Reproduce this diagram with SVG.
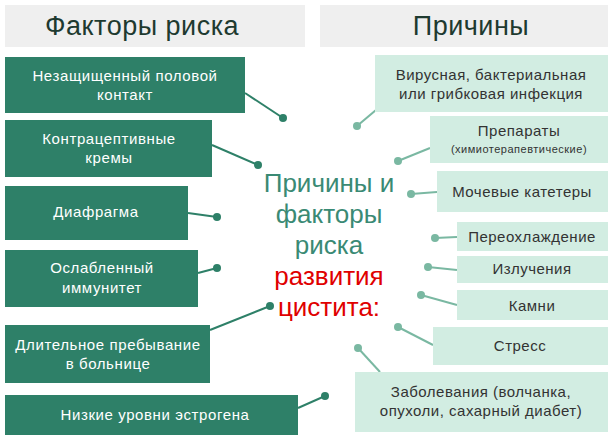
<svg xmlns="http://www.w3.org/2000/svg" width="614" height="442" viewBox="0 0 614 442">
<style>
text{font-family:"Liberation Sans",Arial,sans-serif;text-anchor:middle}
.d{fill:#2e8068}.dt{fill:#fff;font-size:15px;letter-spacing:0.6px}
.l{fill:#d2ede2}.lt{fill:#333;font-size:15px;letter-spacing:0.5px}
.h{fill:#efefef}.ht{fill:#1e3a30;font-size:27px;letter-spacing:0.5px}
.cl{stroke:#2e8068;stroke-width:2}.cr{stroke:#7ab8a2;stroke-width:2}
.c{fill:#3a8a74;font-size:26px}
</style>
<rect width="614" height="442" fill="#fff"/>
<g id="hdr-left"><rect class="h" x="5" y="5" width="300" height="42"/><text class="ht" x="142" y="35">Факторы риска</text></g>
<g id="hdr-right"><rect class="h" x="320" y="5" width="288" height="42"/><text class="ht" x="471" y="35">Причины</text></g>
<g id="connectors">
<line class="cl" x1="245" y1="93" x2="283" y2="118"/><circle cx="283" cy="118" r="4" fill="#2e8068"/>
<line class="cl" x1="212" y1="145" x2="258" y2="165"/><circle cx="258" cy="165" r="4" fill="#2e8068"/>
<line class="cl" x1="188" y1="213" x2="217" y2="217"/><circle cx="217" cy="217" r="4" fill="#2e8068"/>
<line class="cl" x1="198" y1="273" x2="217" y2="268"/><circle cx="217" cy="268" r="4" fill="#2e8068"/>
<line class="cl" x1="210" y1="330" x2="270" y2="306"/><circle cx="270" cy="306" r="4" fill="#2e8068"/>
<line class="cl" x1="298" y1="408" x2="325" y2="396"/><circle cx="325" cy="396" r="4" fill="#2e8068"/>
<line class="cr" x1="376" y1="110" x2="357" y2="126"/><circle cx="357" cy="126" r="4" fill="#7ab8a2"/>
<line class="cr" x1="430" y1="148" x2="398" y2="161"/><circle cx="398" cy="161" r="4" fill="#7ab8a2"/>
<line class="cr" x1="437" y1="192" x2="411" y2="194"/><circle cx="411" cy="194" r="4" fill="#7ab8a2"/>
<line class="cr" x1="457" y1="237" x2="435" y2="238"/><circle cx="435" cy="238" r="4" fill="#7ab8a2"/>
<line class="cr" x1="457" y1="270" x2="428" y2="267"/><circle cx="428" cy="267" r="4" fill="#7ab8a2"/>
<line class="cr" x1="457" y1="305" x2="421" y2="295"/><circle cx="421" cy="295" r="4" fill="#7ab8a2"/>
<line class="cr" x1="433" y1="345" x2="398" y2="327"/><circle cx="398" cy="327" r="4" fill="#7ab8a2"/>
<line class="cr" x1="380" y1="372" x2="358" y2="348"/><circle cx="358" cy="348" r="4" fill="#7ab8a2"/>
</g>
<g id="l1"><rect class="d" x="5" y="57" width="240" height="56"/><text class="dt" x="125" y="81">Незащищенный половой</text><text class="dt" x="125" y="100">контакт</text></g>
<g id="l2"><rect class="d" x="5" y="120" width="207" height="57"/><text class="dt" x="109" y="144">Контрацептивные</text><text class="dt" x="109" y="163">кремы</text></g>
<g id="l3"><rect class="d" x="5" y="186" width="183" height="54"/><text class="dt" x="96" y="217">Диафрагма</text></g>
<g id="l4"><rect class="d" x="5" y="250" width="193" height="57"/><text class="dt" x="102" y="273">Ослабленный</text><text class="dt" x="102" y="293">иммунитет</text></g>
<g id="l5"><rect class="d" x="5" y="325" width="205" height="58"/><text class="dt" x="108" y="350">Длительное пребывание</text><text class="dt" x="108" y="369">в больнице</text></g>
<g id="l6"><rect class="d" x="5" y="395" width="293" height="40"/><text class="dt" x="155" y="420">Низкие уровни эстрогена</text></g>
<g id="center">
<text class="c" x="329" y="192">Причины и</text><text class="c" x="329" y="223">факторы</text><text class="c" x="329" y="254">риска</text>
<text class="c" x="329" y="285" style="fill:#e00000">развития</text><text class="c" x="329" y="316" style="fill:#e00000">цистита:</text>
</g>
<g id="r1"><rect class="l" x="375" y="55" width="233" height="57"/><text class="lt" x="491" y="80">Вирусная, бактериальная</text><text class="lt" x="491" y="99">или грибковая инфекция</text></g>
<g id="r2"><rect class="l" x="430" y="116" width="178" height="47"/><text class="lt" x="519" y="136">Препараты</text><text class="lt" x="519" y="153" style="font-size:11px">(химиотерапевтические)</text></g>
<g id="r3"><rect class="l" x="437" y="171" width="171" height="41"/><text class="lt" x="522" y="197">Мочевые катетеры</text></g>
<g id="r4"><rect class="l" x="457" y="222" width="151" height="29"/><text class="lt" x="532" y="242">Переохлаждение</text></g>
<g id="r5"><rect class="l" x="457" y="256" width="151" height="27"/><text class="lt" x="532" y="274">Излучения</text></g>
<g id="r6"><rect class="l" x="457" y="290" width="151" height="30"/><text class="lt" x="532" y="311">Камни</text></g>
<g id="r7"><rect class="l" x="433" y="327" width="175" height="38"/><text class="lt" x="520" y="351">Стресс</text></g>
<g id="r8"><rect class="l" x="355" y="372" width="253" height="60"/><text class="lt" x="481" y="397">Заболевания (волчанка,</text><text class="lt" x="481" y="416">опухоли, сахарный диабет)</text></g>
</svg>
